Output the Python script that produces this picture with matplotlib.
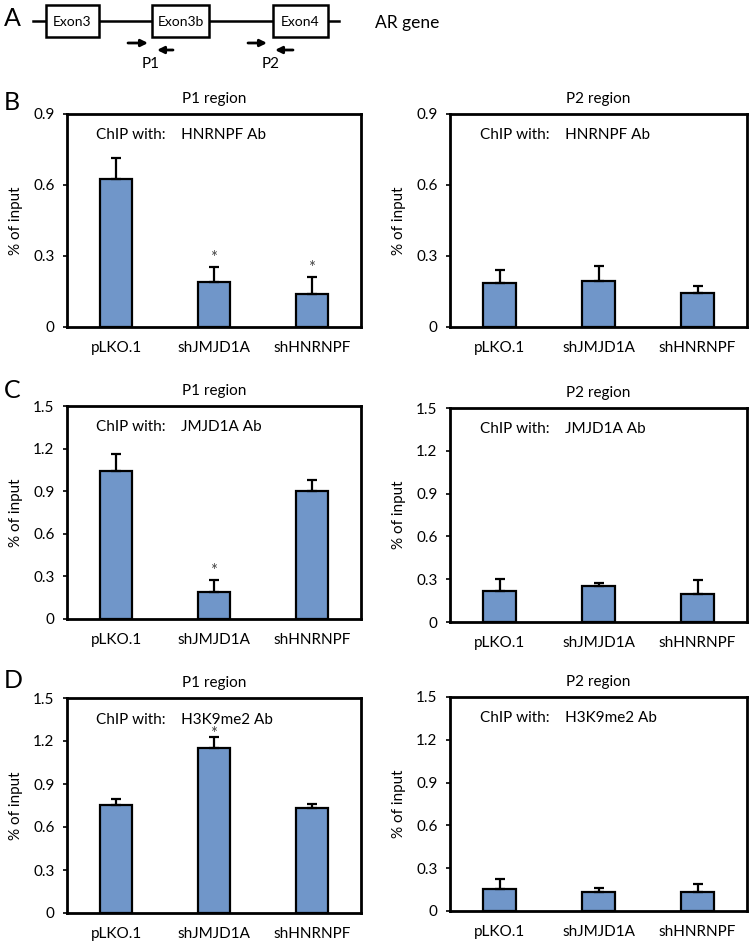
import matplotlib
matplotlib.use("Agg")
import matplotlib.pyplot as plt
import numpy as np

plt.rcParams['font.family'] = ['Lato', 'DejaVu Sans']

# Data
muestras = ["pLKO.1", "shJMJD1A", "shHNRNPF"]

b_p1 = [0.625, 0.19, 0.139]
b_p1_err = [0.089, 0.064, 0.072]
b_p2 = [0.186, 0.194, 0.144]
b_p2_err = [0.055, 0.064, 0.029]

c_p1 = [1.042, 0.19, 0.901]
c_p1_err = [0.12, 0.085, 0.078]
c_p2 = [0.215, 0.252, 0.196]
c_p2_err = [0.085, 0.018, 0.098]

d_p1 = [0.753, 1.151, 0.733]
d_p1_err = [0.042, 0.077, 0.027]
d_p2 = [0.154, 0.133, 0.135]
d_p2_err = [0.07, 0.028, 0.054]

# significance marks (index of bar)
b_p1_sig = [1, 2]
c_p1_sig = [1]
d_p1_sig = [1]
# gap of the star above the error bar, in points
sig_gap = [3, 3, -1.5]

anticuerpos = ["HNRNPF Ab", "JMJD1A Ab", "H3K9me2 Ab"]
ymax = [0.9, 1.5, 1.5]

# gene schematic
exones = ["Exon3", "Exon3b", "Exon4"]
exon_x = [(46, 99), (152, 209), (273, 328)]

color_barra = "#7096c9"
W, H = 750, 943

fig = plt.figure(figsize=(W / 100, H / 100), dpi=100)

def pos(l, t, r, b):
    return [l / W, 1 - b / H, (r - l) / W, (b - t) / H]

# Panel A: schematic in pixel coordinates
axA = fig.add_axes([0, 0, 1, 1])
axA.set_xlim(0, W)
axA.set_ylim(H, 0)
axA.axis("off")
axA.plot([33, 339], [21, 21], color="black", lw=1.8)
for nombre, (x0, x1) in zip(exones, exon_x):
    axA.add_patch(plt.Rectangle((x0, 5), x1 - x0, 32, facecolor="white",
                                edgecolor="black", lw=1.8, zorder=3))
    axA.text((x0 + x1) / 2, 22, nombre, ha="center", va="center", fontsize=10, zorder=4)
for (xa, xb, xc, xd), etiqueta in [((128, 148, 173, 157), "P1"), ((248, 267, 293, 275), "P2")]:
    axA.annotate("", xy=(xb, 43), xytext=(xa, 43),
                 arrowprops=dict(arrowstyle="-|>", color="black", lw=2, mutation_scale=10,
                                 shrinkA=0, shrinkB=0))
    axA.annotate("", xy=(xd, 50), xytext=(xc, 50),
                 arrowprops=dict(arrowstyle="-|>", color="black", lw=2, mutation_scale=10,
                                 shrinkA=0, shrinkB=0))
    axA.text((xa + xc) / 2, 64, etiqueta, ha="center", va="center", fontsize=11)
axA.text(375, 23, "AR gene", ha="left", va="center", fontsize=12.5)
axA.text(4, 18, "A", ha="left", va="center", fontsize=18)
axA.text(4, 103, "B", ha="left", va="center", fontsize=18)
axA.text(4, 391, "C", ha="left", va="center", fontsize=18)
axA.text(4, 681, "D", ha="left", va="center", fontsize=18)

paneles = [
    (b_p1, b_p1_err, b_p1_sig, b_p2, b_p2_err),
    (c_p1, c_p1_err, c_p1_sig, c_p2, c_p2_err),
    (d_p1, d_p1_err, d_p1_sig, d_p2, d_p2_err),
]
cajas_izq = [(67, 114, 361, 327), (67, 406, 361, 619), (67, 698, 361, 913)]
cajas_der = [(450, 114, 747, 327), (450, 408, 747, 622), (450, 697, 747, 911)]

x = np.arange(len(muestras))

def dibujar(ax, vals, errs, sig, gap, top, ab, region):
    ax.bar(x, vals, width=0.33, color=color_barra, edgecolor="black", lw=1.6, zorder=2)
    ax.errorbar(x, vals, yerr=[np.zeros(len(vals)), errs], fmt="none", ecolor="black",
                elinewidth=1.6, capsize=3.5, capthick=1.6, zorder=3)
    for i in sig:
        ax.annotate("*", (x[i], vals[i] + errs[i]), xytext=(0, gap), textcoords="offset points",
                    ha="center", va="baseline", fontsize=12, color="#444444", zorder=5)
    ax.set_xlim(-0.5, 2.5)
    ax.set_ylim(0, top)
    paso = 0.3
    ax.set_yticks(np.arange(0, top + 0.01, paso))
    ax.set_yticklabels(["0"] + ["%.1f" % v for v in np.arange(paso, top + 0.01, paso)])
    ax.set_xticks(x)
    ax.set_xticklabels(muestras)
    ax.tick_params(axis="x", length=0, pad=10, labelsize=11)
    ax.tick_params(axis="y", length=3, width=1.2, pad=6, labelsize=11)
    for s in ax.spines.values():
        s.set_linewidth(2)
    ax.set_ylabel("% of input", fontsize=11, labelpad=7)
    ax.set_title(region, fontsize=11, pad=8)
    ax.text(0.1, 0.9, "ChIP with:    " + ab, transform=ax.transAxes, ha="left",
            va="center", fontsize=11)

for k, (v1, e1, s1, v2, e2) in enumerate(paneles):
    ax1 = fig.add_axes(pos(*cajas_izq[k]))
    dibujar(ax1, v1, e1, s1, sig_gap[k], ymax[k], anticuerpos[k], "P1 region")
    ax2 = fig.add_axes(pos(*cajas_der[k]))
    dibujar(ax2, v2, e2, [], 0, ymax[k], anticuerpos[k], "P2 region")

fig.savefig("out.png", dpi=100)
